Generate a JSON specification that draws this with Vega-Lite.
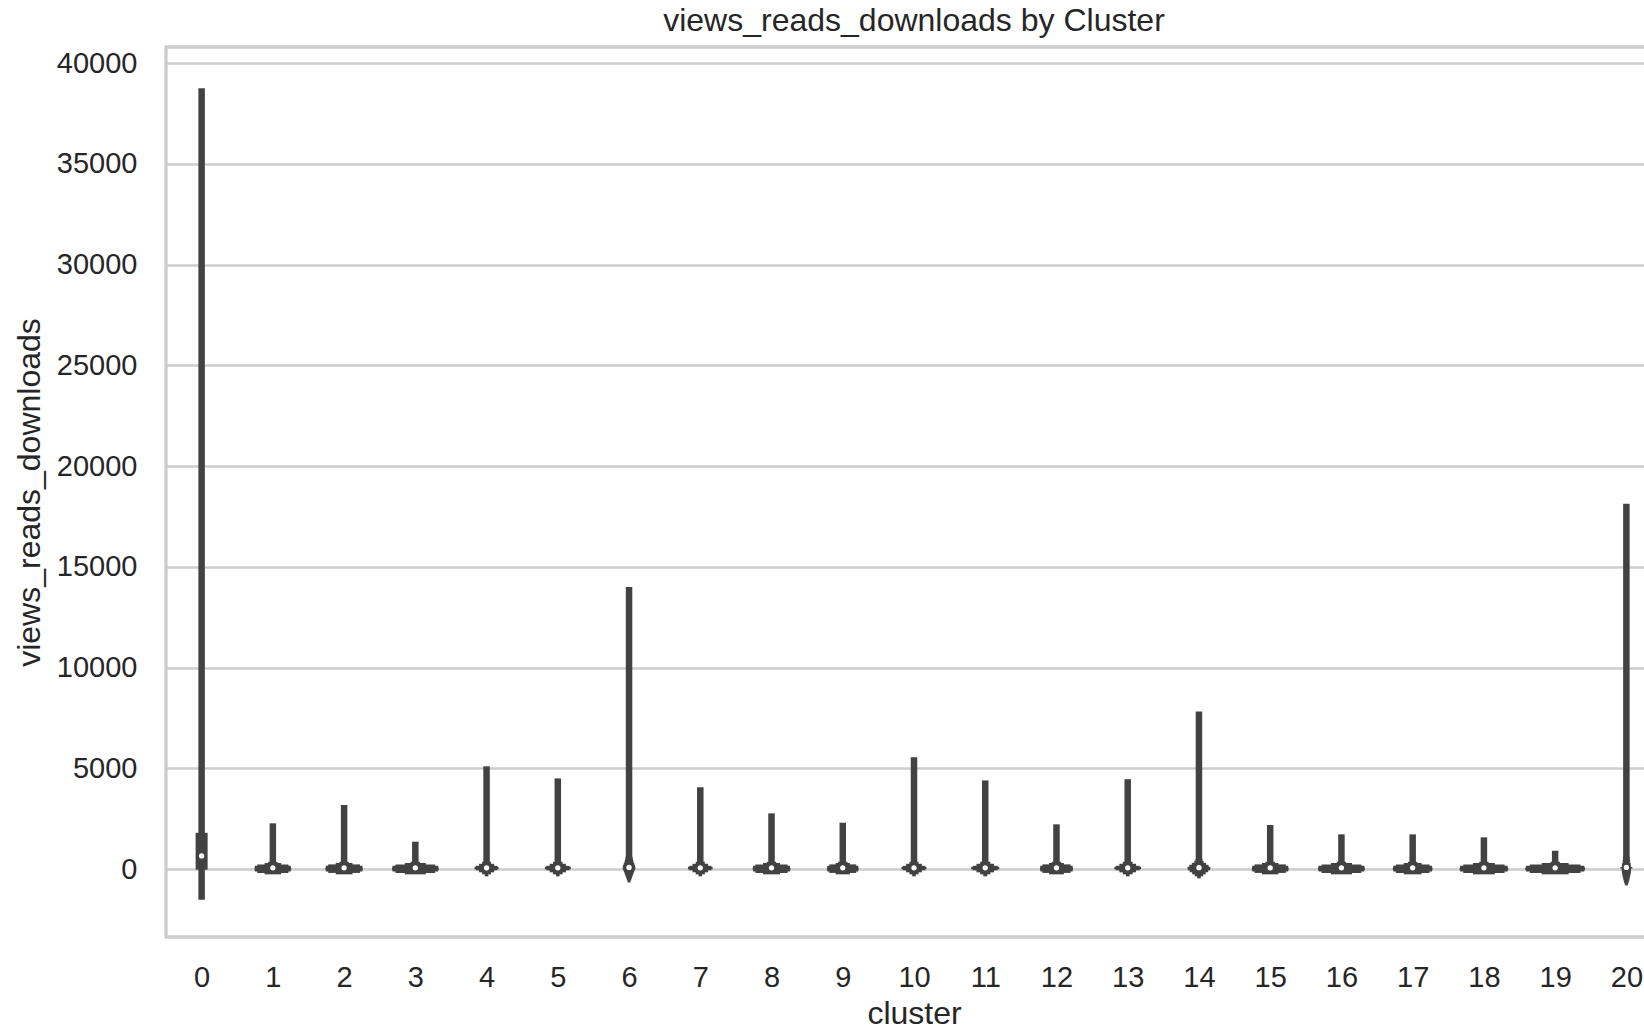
{
  "$schema": "https://vega.github.io/schema/vega-lite/v6.json",
  "autosize": {"type": "none"},
  "padding": {"left": 166, "top": 47, "right": -18, "bottom": 92},
  "width": 1496,
  "height": 890,
  "background": "white",
  "title": {"text": "views_reads_downloads by Cluster", "fontSize": 32, "font": "Liberation Sans", "fontWeight": "normal", "color": "#262626", "anchor": "middle", "frame": "group", "baseline": "alphabetic", "offset": 11, "dy": 27},
  "config": {"view": {"stroke": "#cccccc", "strokeWidth": 3.3}, "font": "Liberation Sans"},
  "datasets": {
    "summary": [
      {"cluster": 0, "low": -1520, "high": 38750, "q1": -30, "q3": 1800, "median": 650},
      {"cluster": 1, "low": 0, "high": 2270, "q1": 20, "q3": 120, "median": 60},
      {"cluster": 2, "low": 0, "high": 3180, "q1": 20, "q3": 130, "median": 60},
      {"cluster": 3, "low": 0, "high": 1360, "q1": 20, "q3": 110, "median": 60},
      {"cluster": 4, "low": 0, "high": 5100, "q1": 20, "q3": 140, "median": 60},
      {"cluster": 5, "low": 0, "high": 4500, "q1": 20, "q3": 140, "median": 60},
      {"cluster": 6, "low": 0, "high": 14000, "q1": 10, "q3": 160, "median": 80},
      {"cluster": 7, "low": 0, "high": 4060, "q1": 20, "q3": 140, "median": 60},
      {"cluster": 8, "low": 0, "high": 2765, "q1": 20, "q3": 120, "median": 60},
      {"cluster": 9, "low": 0, "high": 2300, "q1": 20, "q3": 120, "median": 60},
      {"cluster": 10, "low": 0, "high": 5550, "q1": 20, "q3": 150, "median": 60},
      {"cluster": 11, "low": 0, "high": 4400, "q1": 20, "q3": 140, "median": 60},
      {"cluster": 12, "low": 0, "high": 2220, "q1": 20, "q3": 120, "median": 60},
      {"cluster": 13, "low": 0, "high": 4460, "q1": 20, "q3": 140, "median": 60},
      {"cluster": 14, "low": 0, "high": 7815, "q1": 10, "q3": 160, "median": 70},
      {"cluster": 15, "low": 0, "high": 2186, "q1": 20, "q3": 120, "median": 60},
      {"cluster": 16, "low": 0, "high": 1723, "q1": 20, "q3": 110, "median": 60},
      {"cluster": 17, "low": 0, "high": 1723, "q1": 20, "q3": 110, "median": 60},
      {"cluster": 18, "low": 0, "high": 1574, "q1": 20, "q3": 110, "median": 60},
      {"cluster": 19, "low": 0, "high": 910, "q1": 20, "q3": 100, "median": 60},
      {"cluster": 20, "low": 0, "high": 18130, "q1": 30, "q3": 100, "median": 80}
    ],
    "profile": [
      {"cluster": 1, "value": -200, "density": 0.232}, {"cluster": 1, "value": -130, "density": 0.438}, {"cluster": 1, "value": -60, "density": 0.505}, {"cluster": 1, "value": 20, "density": 0.515}, {"cluster": 1, "value": 100, "density": 0.505}, {"cluster": 1, "value": 170, "density": 0.438}, {"cluster": 1, "value": 240, "density": 0.232}, {"cluster": 1, "value": 300, "density": 0.133},
      {"cluster": 2, "value": -200, "density": 0.236}, {"cluster": 2, "value": -130, "density": 0.445}, {"cluster": 2, "value": -60, "density": 0.514}, {"cluster": 2, "value": 20, "density": 0.524}, {"cluster": 2, "value": 100, "density": 0.514}, {"cluster": 2, "value": 170, "density": 0.445}, {"cluster": 2, "value": 240, "density": 0.236}, {"cluster": 2, "value": 300, "density": 0.133},
      {"cluster": 3, "value": -200, "density": 0.295}, {"cluster": 3, "value": -130, "density": 0.557}, {"cluster": 3, "value": -60, "density": 0.642}, {"cluster": 3, "value": 20, "density": 0.655}, {"cluster": 3, "value": 100, "density": 0.642}, {"cluster": 3, "value": 170, "density": 0.557}, {"cluster": 3, "value": 240, "density": 0.295}, {"cluster": 3, "value": 300, "density": 0.133},
      {"cluster": 4, "value": -300, "density": 0.05}, {"cluster": 4, "value": -200, "density": 0.125}, {"cluster": 4, "value": -100, "density": 0.212}, {"cluster": 4, "value": 0, "density": 0.3}, {"cluster": 4, "value": 50, "density": 0.337}, {"cluster": 4, "value": 100, "density": 0.3}, {"cluster": 4, "value": 200, "density": 0.212}, {"cluster": 4, "value": 300, "density": 0.125},
      {"cluster": 5, "value": -300, "density": 0.05}, {"cluster": 5, "value": -200, "density": 0.134}, {"cluster": 5, "value": -100, "density": 0.229}, {"cluster": 5, "value": 0, "density": 0.325}, {"cluster": 5, "value": 50, "density": 0.365}, {"cluster": 5, "value": 100, "density": 0.325}, {"cluster": 5, "value": 200, "density": 0.229}, {"cluster": 5, "value": 300, "density": 0.134},
      {"cluster": 6, "value": -600, "density": 0.042}, {"cluster": 6, "value": -500, "density": 0.063}, {"cluster": 6, "value": -400, "density": 0.084}, {"cluster": 6, "value": -300, "density": 0.105}, {"cluster": 6, "value": -200, "density": 0.126}, {"cluster": 6, "value": -100, "density": 0.147}, {"cluster": 6, "value": 0, "density": 0.168}, {"cluster": 6, "value": 65, "density": 0.177}, {"cluster": 6, "value": 150, "density": 0.168}, {"cluster": 6, "value": 250, "density": 0.147}, {"cluster": 6, "value": 350, "density": 0.126}, {"cluster": 6, "value": 450, "density": 0.112}, {"cluster": 6, "value": 550, "density": 0.098},
      {"cluster": 7, "value": -300, "density": 0.05}, {"cluster": 7, "value": -200, "density": 0.128}, {"cluster": 7, "value": -100, "density": 0.218}, {"cluster": 7, "value": 0, "density": 0.31}, {"cluster": 7, "value": 50, "density": 0.347}, {"cluster": 7, "value": 100, "density": 0.31}, {"cluster": 7, "value": 200, "density": 0.218}, {"cluster": 7, "value": 300, "density": 0.128},
      {"cluster": 8, "value": -200, "density": 0.238}, {"cluster": 8, "value": -130, "density": 0.45}, {"cluster": 8, "value": -60, "density": 0.518}, {"cluster": 8, "value": 20, "density": 0.529}, {"cluster": 8, "value": 100, "density": 0.518}, {"cluster": 8, "value": 170, "density": 0.45}, {"cluster": 8, "value": 240, "density": 0.238}, {"cluster": 8, "value": 300, "density": 0.133},
      {"cluster": 9, "value": -200, "density": 0.2}, {"cluster": 9, "value": -130, "density": 0.378}, {"cluster": 9, "value": -60, "density": 0.436}, {"cluster": 9, "value": 20, "density": 0.445}, {"cluster": 9, "value": 100, "density": 0.436}, {"cluster": 9, "value": 170, "density": 0.378}, {"cluster": 9, "value": 240, "density": 0.2}, {"cluster": 9, "value": 300, "density": 0.133},
      {"cluster": 10, "value": -300, "density": 0.05}, {"cluster": 10, "value": -200, "density": 0.129}, {"cluster": 10, "value": -100, "density": 0.221}, {"cluster": 10, "value": 0, "density": 0.313}, {"cluster": 10, "value": 50, "density": 0.351}, {"cluster": 10, "value": 100, "density": 0.313}, {"cluster": 10, "value": 200, "density": 0.221}, {"cluster": 10, "value": 300, "density": 0.129},
      {"cluster": 11, "value": -300, "density": 0.055}, {"cluster": 11, "value": -200, "density": 0.144}, {"cluster": 11, "value": -100, "density": 0.246}, {"cluster": 11, "value": 0, "density": 0.35}, {"cluster": 11, "value": 50, "density": 0.393}, {"cluster": 11, "value": 100, "density": 0.35}, {"cluster": 11, "value": 200, "density": 0.246}, {"cluster": 11, "value": 300, "density": 0.144},
      {"cluster": 12, "value": -200, "density": 0.208}, {"cluster": 12, "value": -130, "density": 0.394}, {"cluster": 12, "value": -60, "density": 0.454}, {"cluster": 12, "value": 20, "density": 0.463}, {"cluster": 12, "value": 100, "density": 0.454}, {"cluster": 12, "value": 170, "density": 0.394}, {"cluster": 12, "value": 240, "density": 0.208}, {"cluster": 12, "value": 300, "density": 0.133},
      {"cluster": 13, "value": -300, "density": 0.052}, {"cluster": 13, "value": -200, "density": 0.138}, {"cluster": 13, "value": -100, "density": 0.235}, {"cluster": 13, "value": 0, "density": 0.334}, {"cluster": 13, "value": 50, "density": 0.375}, {"cluster": 13, "value": 100, "density": 0.334}, {"cluster": 13, "value": 200, "density": 0.235}, {"cluster": 13, "value": 300, "density": 0.138},
      {"cluster": 14, "value": -400, "density": 0.05}, {"cluster": 14, "value": -300, "density": 0.12}, {"cluster": 14, "value": -200, "density": 0.19}, {"cluster": 14, "value": -100, "density": 0.26}, {"cluster": 14, "value": 0, "density": 0.31}, {"cluster": 14, "value": 50, "density": 0.32}, {"cluster": 14, "value": 150, "density": 0.27}, {"cluster": 14, "value": 250, "density": 0.2}, {"cluster": 14, "value": 350, "density": 0.13}, {"cluster": 14, "value": 450, "density": 0.095},
      {"cluster": 15, "value": -200, "density": 0.232}, {"cluster": 15, "value": -130, "density": 0.439}, {"cluster": 15, "value": -60, "density": 0.506}, {"cluster": 15, "value": 20, "density": 0.516}, {"cluster": 15, "value": 100, "density": 0.506}, {"cluster": 15, "value": 170, "density": 0.439}, {"cluster": 15, "value": 240, "density": 0.232}, {"cluster": 15, "value": 300, "density": 0.133},
      {"cluster": 16, "value": -200, "density": 0.296}, {"cluster": 16, "value": -130, "density": 0.558}, {"cluster": 16, "value": -60, "density": 0.644}, {"cluster": 16, "value": 20, "density": 0.657}, {"cluster": 16, "value": 100, "density": 0.644}, {"cluster": 16, "value": 170, "density": 0.558}, {"cluster": 16, "value": 240, "density": 0.296}, {"cluster": 16, "value": 300, "density": 0.133},
      {"cluster": 17, "value": -200, "density": 0.25}, {"cluster": 17, "value": -130, "density": 0.473}, {"cluster": 17, "value": -60, "density": 0.545}, {"cluster": 17, "value": 20, "density": 0.556}, {"cluster": 17, "value": 100, "density": 0.545}, {"cluster": 17, "value": 170, "density": 0.473}, {"cluster": 17, "value": 240, "density": 0.25}, {"cluster": 17, "value": 300, "density": 0.133},
      {"cluster": 18, "value": -200, "density": 0.307}, {"cluster": 18, "value": -130, "density": 0.58}, {"cluster": 18, "value": -60, "density": 0.668}, {"cluster": 18, "value": 20, "density": 0.682}, {"cluster": 18, "value": 100, "density": 0.668}, {"cluster": 18, "value": 170, "density": 0.58}, {"cluster": 18, "value": 240, "density": 0.307}, {"cluster": 18, "value": 300, "density": 0.133},
      {"cluster": 19, "value": -200, "density": 0.377}, {"cluster": 19, "value": -130, "density": 0.712}, {"cluster": 19, "value": -60, "density": 0.821}, {"cluster": 19, "value": 20, "density": 0.838}, {"cluster": 19, "value": 100, "density": 0.821}, {"cluster": 19, "value": 170, "density": 0.712}, {"cluster": 19, "value": 240, "density": 0.377}, {"cluster": 19, "value": 300, "density": 0.133},
      {"cluster": 20, "value": -750, "density": 0.042}, {"cluster": 20, "value": -650, "density": 0.063}, {"cluster": 20, "value": -550, "density": 0.077}, {"cluster": 20, "value": -450, "density": 0.091}, {"cluster": 20, "value": -350, "density": 0.105}, {"cluster": 20, "value": -250, "density": 0.116}, {"cluster": 20, "value": -150, "density": 0.126}, {"cluster": 20, "value": -50, "density": 0.131}, {"cluster": 20, "value": 50, "density": 0.131}, {"cluster": 20, "value": 150, "density": 0.126}, {"cluster": 20, "value": 250, "density": 0.119}, {"cluster": 20, "value": 400, "density": 0.105}, {"cluster": 20, "value": 550, "density": 0.095}
    ]
  },
  "layer": [
    {
      "data": {"name": "summary"},
      "mark": {"type": "rule", "color": "#424242", "strokeWidth": 6.5, "strokeCap": "butt"},
      "encoding": {
        "x": {"field": "cluster", "type": "quantitative",
          "scale": {"domain": [-0.5, 20.5], "nice": false, "zero": false},
          "axis": {"values": [0,1,2,3,4,5,6,7,8,9,10,11,12,13,14,15,16,17,18,19,20], "format": "d",
            "grid": false, "ticks": false, "tickSize": 0, "domain": false,
            "labelFont": "Liberation Sans", "labelFontSize": 29, "labelColor": "#262626", "labelPadding": 26,
            "labelFlush": false, "labelOverlap": false, "labelBound": false,
            "title": "cluster", "titleFont": "Liberation Sans", "titleFontSize": 32, "titleFontWeight": "normal", "titleColor": "#262626",
            "titleY": 86, "titleBaseline": "alphabetic"}},
        "y": {"field": "low", "type": "quantitative",
          "scale": {"domain": [-3372, 40803], "nice": false, "zero": false},
          "axis": {"values": [0,5000,10000,15000,20000,25000,30000,35000,40000], "format": "d",
            "grid": true, "gridColor": "#cccccc", "gridWidth": 2.6, "ticks": false, "tickSize": 0,
            "domain": false,
            "labelFont": "Liberation Sans", "labelFontSize": 29, "labelColor": "#262626", "labelPadding": 29,
            "labelOverlap": false, "labelFlush": false,
            "title": "views_reads_downloads", "titleFont": "Liberation Sans", "titleFontSize": 32, "titleFontWeight": "normal", "titleColor": "#262626",
            "titleX": -127, "titleY": 445, "titleAngle": 270, "titleBaseline": "alphabetic", "titleAlign": "center"}},
        "y2": {"field": "high"}
      }
    },
    {
      "data": {"name": "profile"},
      "mark": {"type": "tick", "orient": "horizontal", "thickness": 2.5, "color": "#424242", "opacity": 1},
      "encoding": {
        "x": {"field": "cluster", "type": "quantitative"},
        "y": {"field": "value", "type": "quantitative"},
        "size": {"field": "density", "type": "quantitative", "scale": {"domain": [0, 1], "range": [0, 71.25]}, "legend": null}
      }
    },
    {
      "data": {"name": "summary"},
      "mark": {"type": "rule", "color": "#424242", "strokeWidth": 12, "strokeCap": "butt"},
      "encoding": {
        "x": {"field": "cluster", "type": "quantitative"},
        "y": {"field": "q1", "type": "quantitative"},
        "y2": {"field": "q3"}
      }
    },
    {
      "data": {"name": "summary"},
      "mark": {"type": "point", "filled": true, "color": "white", "opacity": 1, "size": 28, "strokeWidth": 0},
      "encoding": {
        "x": {"field": "cluster", "type": "quantitative"},
        "y": {"field": "median", "type": "quantitative"}
      }
    }
  ]
}
